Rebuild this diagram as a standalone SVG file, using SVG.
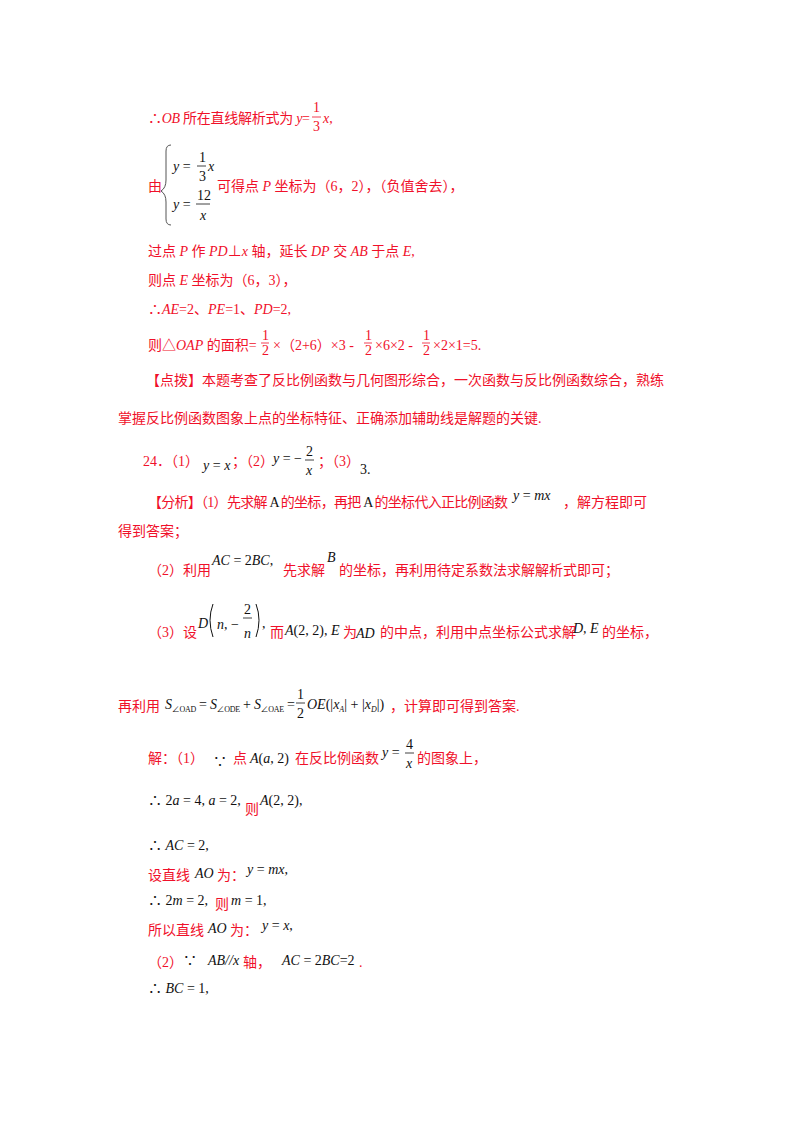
<svg xmlns="http://www.w3.org/2000/svg" width="800" height="1132" viewBox="0 0 800 1132">
<style>
text{font-family:"Liberation Serif","Noto Sans CJK SC",serif;font-size:14px}
.r{fill:#f0102a}
.k{fill:#111}
.i{font-style:italic}
.s{font-size:8px}
.line{stroke:#111;stroke-width:0.8}
.rl{stroke:#f0102a;stroke-width:0.8}
.par{fill:none;stroke:#111;stroke-width:1}
</style>
<rect width="800" height="1132" fill="#fff"/>
<g id="text-top" class="r">
<text x="148" y="123" textLength="162">∴<tspan class="i">OB</tspan> 所在直线解析式为 <tspan class="i">y</tspan>=</text>
<text x="313" y="112">1</text><line class="rl" x1="312" y1="117" x2="321" y2="117"/><text x="313" y="131">3</text>
<text x="323" y="123"><tspan class="i">x</tspan>,</text>
<text x="148" y="191">由</text>
<path d="M171,145 q-5,0 -5,6 v29 q0,8 -5,11 q5,3 5,11 v17 q0,6 5,6" fill="none" stroke="#555" stroke-width="1"/>
<text class="k" x="173" y="171"><tspan class="i">y</tspan> =</text>
<text class="k" x="199" y="162">1</text><line class="line" x1="197" y1="166" x2="206" y2="166"/><text class="k" x="199" y="181">3</text>
<text class="k i" x="208" y="171">x</text>
<text class="k" x="173" y="209"><tspan class="i">y</tspan> =</text>
<text class="k" x="197" y="200">12</text><line class="line" x1="196" y1="204" x2="210" y2="204"/><text class="k i" x="200" y="220">x</text>
<text x="217" y="191">可得点 <tspan class="i">P</tspan> 坐标为（6，2），（负值舍去），</text>
<text x="148" y="256">过点 <tspan class="i">P</tspan> 作 <tspan class="i">PD</tspan>⊥<tspan class="i">x</tspan> 轴，延长 <tspan class="i">DP</tspan> 交 <tspan class="i">AB</tspan> 于点 <tspan class="i">E</tspan>,</text>
<text x="148" y="285">则点 <tspan class="i">E</tspan> 坐标为（6，3），</text>
<text x="148" y="314">∴<tspan class="i">AE</tspan>=2、<tspan class="i">PE</tspan>=1、<tspan class="i">PD</tspan>=2,</text>
<text x="148" y="350">则△<tspan class="i">OAP</tspan> 的面积=</text>
<text x="262" y="340" font-size="12">1</text><line class="rl" x1="261" y1="343" x2="269" y2="343"/><text x="262" y="355" font-size="12">2</text>
<text x="273" y="350">×（2+6）×3 -</text>
<text x="365" y="340" font-size="12">1</text><line class="rl" x1="364" y1="343" x2="372" y2="343"/><text x="365" y="355" font-size="12">2</text>
<text x="375" y="350">×6×2 -</text>
<text x="423" y="340" font-size="12">1</text><line class="rl" x1="422" y1="343" x2="430" y2="343"/><text x="423" y="355" font-size="12">2</text>
<text x="433" y="350">×2×1=5.</text>
<text x="146" y="385">【点拨】本题考查了反比例函数与几何图形综合，一次函数与反比例函数综合，熟练</text>
<text x="118" y="423">掌握反比例函数图象上点的坐标特征、正确添加辅助线是解题的关键.</text>
</g>
<g id="q24">
<text class="r" x="143" y="466">24．（1）</text>
<text class="k" x="203" y="470"><tspan class="i">y</tspan> = <tspan class="i">x</tspan></text>
<text class="r" x="232" y="466">；（2）</text>
<text class="k" x="273" y="463"><tspan class="i">y</tspan> = −</text>
<text class="k" x="306" y="456">2</text><line class="line" x1="305" y1="460" x2="314" y2="460"/><text class="k i" x="306" y="475">x</text>
<text class="r" x="318" y="466">；（3）</text>
<text class="k" x="360" y="474">3.</text>
</g>
<g id="analysis">
<text class="r" x="148" y="507" textLength="360">【分析】（1）先求解 <tspan class="k">A</tspan> 的坐标，再把 <tspan class="k">A</tspan> 的坐标代入正比例函数</text>
<text class="k" x="513" y="500"><tspan class="i">y</tspan> = <tspan class="i">mx</tspan></text>
<text class="r" x="563" y="507">，解方程即可</text>
<text class="r" x="118" y="536">得到答案；</text>
<text class="r" x="148" y="575">（2）利用</text>
<text class="k" x="212" y="565"><tspan class="i">AC</tspan> = 2<tspan class="i">BC</tspan>,</text>
<text class="r" x="283" y="575">先求解</text>
<text class="k i" x="327" y="562">B</text>
<text class="r" x="339" y="575">的坐标，再利用待定系数法求解解析式即可；</text>
<text class="r" x="148" y="637">（3）设</text>
<text class="k i" x="198" y="628">D</text>
<path class="par" d="M213,604 q-6,16 0,33"/>
<text class="k" x="217" y="629"><tspan class="i">n</tspan>, −</text>
<text class="k" x="244" y="614">2</text><line class="line" x1="243" y1="618" x2="252" y2="618"/><text class="k i" x="244" y="638">n</text>
<path class="par" d="M256,604 q6,16 0,33"/><text class="k" x="262" y="628">,</text>
<text class="r" x="270" y="637">而</text>
<text class="k" x="285" y="635"><tspan class="i">A</tspan>(2, 2), <tspan class="i">E</tspan></text>
<text class="r" x="343" y="637">为</text>
<text class="k i" x="356" y="638">AD</text>
<text class="r" x="380" y="637">的中点，利用中点坐标公式求解</text>
<text class="k i" x="573" y="633">D, E</text>
<text class="r" x="602" y="637">的坐标，</text>
<text class="r" x="118" y="711">再利用</text>
<text class="k" x="165" y="709" textLength="130"><tspan class="i">S</tspan><tspan class="s" dy="3">∠OAD</tspan><tspan dy="-3"> = </tspan><tspan class="i">S</tspan><tspan class="s" dy="3">∠ODE</tspan><tspan dy="-3"> + </tspan><tspan class="i">S</tspan><tspan class="s" dy="3">∠OAE</tspan><tspan dy="-3"> =</tspan></text>
<text class="k" x="297" y="699">1</text><line class="line" x1="296" y1="703" x2="305" y2="703"/><text class="k" x="297" y="718">2</text>
<text class="k" x="307" y="709"><tspan class="i">OE</tspan>(|<tspan class="i">x</tspan><tspan class="s i" dy="3">A</tspan><tspan dy="-3">| + |</tspan><tspan class="i">x</tspan><tspan class="s i" dy="3">D</tspan><tspan dy="-3">|)</tspan></text>
<text class="r" x="390" y="711">，计算即可得到答案.</text>
</g>
<g id="solution">
<text class="r" x="148" y="763">解：（1）</text>
<text class="k" x="213" y="766">∵</text>
<text class="r" x="233" y="763">点</text>
<text class="k" x="250" y="763"><tspan class="i">A</tspan>(<tspan class="i">a</tspan>, 2)</text>
<text class="r" x="295" y="763">在反比例函数</text>
<text class="k" x="382" y="757"><tspan class="i">y</tspan> =</text>
<text class="k" x="406" y="749">4</text><line class="line" x1="405" y1="753" x2="414" y2="753"/><text class="k i" x="406" y="768">x</text>
<text class="r" x="417" y="763">的图象上，</text>
<text class="k" x="148" y="805">∴ 2<tspan class="i">a</tspan> = 4, <tspan class="i">a</tspan> = 2,</text>
<text class="r" x="245" y="814">则</text>
<text class="k" x="260" y="805"><tspan class="i">A</tspan>(2, 2),</text>
<text class="k" x="148" y="850">∴ <tspan class="i">AC</tspan> = 2,</text>
<text class="r" x="148" y="880">设直线</text>
<text class="k i" x="195" y="878">AO</text>
<text class="r" x="217" y="880">为：</text>
<text class="k" x="247" y="874"><tspan class="i">y</tspan> = <tspan class="i">mx</tspan>,</text>
<text class="k" x="148" y="905">∴ 2<tspan class="i">m</tspan> = 2,</text>
<text class="r" x="215" y="909">则</text>
<text class="k" x="231" y="905"><tspan class="i">m</tspan> = 1,</text>
<text class="r" x="148" y="935">所以直线</text>
<text class="k i" x="208" y="933">AO</text>
<text class="r" x="230" y="935">为：</text>
<text class="k" x="262" y="930"><tspan class="i">y</tspan> = <tspan class="i">x</tspan>,</text>
<text class="r" x="148" y="967">（2）</text>
<text class="k" x="183" y="965">∵</text>
<text class="k i" x="208" y="965">AB//x</text>
<text class="r" x="243" y="967">轴，</text>
<text class="k" x="282" y="965"><tspan class="i">AC</tspan> = 2<tspan class="i">BC</tspan>=2</text>
<text class="r" x="359" y="967">.</text>
<text class="k" x="148" y="993">∴ <tspan class="i">BC</tspan> = 1,</text>
</g>
</svg>
